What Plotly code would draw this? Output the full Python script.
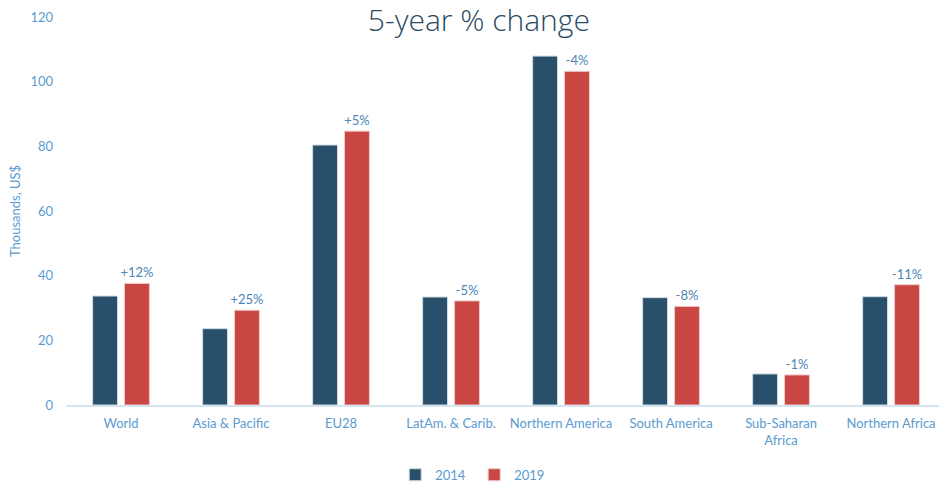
import plotly.graph_objects as go

categories = ["World", "Asia & Pacific", "EU28", "LatAm. & Carib.", "Northern America",
              "South America", "Sub-Saharan<br>Africa", "Northern Africa"]
values_2014 = [33.7, 23.6, 80.4, 33.4, 107.9, 33.2, 9.6, 33.5]
values_2019 = [37.6, 29.3, 84.7, 32.2, 103.2, 30.5, 9.3, 37.2]
change_labels = ["+12%", "+25%", "+5%", "-5%", "-4%", "-8%", "-1%", "-11%"]
y_ticks = [0, 20, 40, 60, 80, 100, 120]

tick_color = "#5b9bd0"
label_color = "#4a86b8"
font_family = "Lato, Noto Sans, sans-serif"

fig = go.Figure()
fig.add_trace(go.Bar(
    name="2014", x=categories, y=values_2014,
    marker=dict(color="#29506b", line=dict(color="#cfd9e2", width=1)),
))
fig.add_trace(go.Bar(
    name="2019", x=categories, y=values_2019,
    marker=dict(color="#c94643", line=dict(color="#efc9c8", width=1)),
    text=change_labels, textposition="outside",
    textfont=dict(color=label_color, size=13, family=font_family),
    cliponaxis=False,
))

fig.update_layout(
    width=939, height=483,
    margin=dict(l=66, r=0, t=17, b=78, autoexpand=False),
    paper_bgcolor="white", plot_bgcolor="white",
    barmode="group", bargap=0.42, bargroupgap=0.22,
    font=dict(family=font_family, color=tick_color, size=13),
    title=dict(text="5-year % change", x=0.51, xref="container", xanchor="center",
               y=0.958, yref="container", yanchor="middle",
               font=dict(family="Open Sans, sans-serif", size=30, color="#2a4a5f", weight=300)),
    showlegend=True,
    legend=dict(orientation="h", x=0.505, xref="container", xanchor="center",
                y=0.017, yref="container", yanchor="middle",
                font=dict(size=13, color=tick_color), traceorder="normal",
                itemwidth=30, entrywidth=34, entrywidthmode="pixels"),
    xaxis=dict(range=[-0.5, 7.436], showgrid=False, showline=True, automargin=False,
               linecolor="#d6e4ef", linewidth=2, ticks="", ticklabelstandoff=5,
               tickfont=dict(size=13, color=tick_color)),
    yaxis=dict(range=[0, 120], tickvals=y_ticks, showgrid=False, zeroline=False,
               showline=False, ticks="", automargin=False, ticklabelstandoff=12,
               tickfont=dict(size=13, color=tick_color),
               title=dict(text="Thousands, US$", font=dict(size=13, color=tick_color),
                          standoff=6)),
    uniformtext=dict(mode="show", minsize=13),
)

fig.write_html("out.html", config={"displayModeBar": False},
               post_script="document.body.style.margin='0';")
